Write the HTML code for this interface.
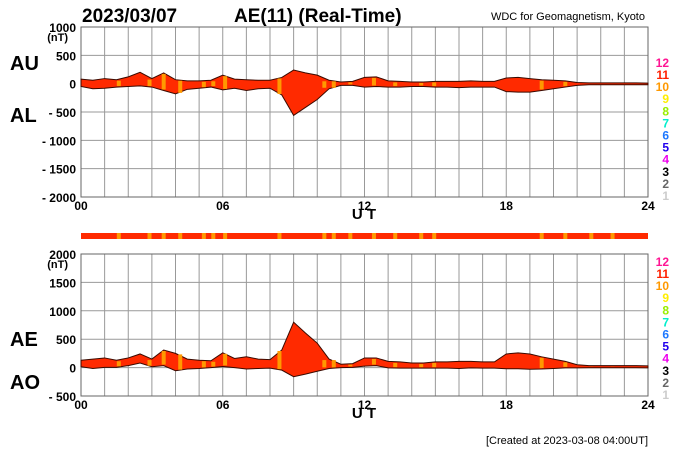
<!DOCTYPE html>
<html><head><meta charset="utf-8"><style>
body{margin:0;background:#fff;width:700px;height:450px;overflow:hidden}
svg{display:block;font-family:"Liberation Sans",sans-serif}
</style></head><body>
<svg id="c" width="700" height="450" viewBox="0 0 700 450">
<text x="82" y="22" font-size="19" font-weight="bold">2023/03/07</text>
<text x="234" y="22" font-size="19" font-weight="bold">AE(11) (Real-Time)</text>
<text x="645" y="20" font-size="11" text-anchor="end">WDC for Geomagnetism, Kyoto</text>
<text x="10" y="70" font-size="20" font-weight="bold">AU</text>
<text x="10" y="122" font-size="20" font-weight="bold">AL</text>
<text x="10" y="346" font-size="20" font-weight="bold">AE</text>
<text x="10" y="389" font-size="20" font-weight="bold">AO</text>
<text x="648" y="444" font-size="11" text-anchor="end">[Created at 2023-03-08 04:00UT]</text>
<g id="g"></g>
</svg>
<script>
const hours=[0,0.5,1,1.5,2,2.5,3,3.5,4,4.5,5,5.5,6,6.5,7,7.5,8,8.5,9,9.5,10,10.5,11,11.5,12,12.5,13,13.5,14,14.5,15,15.5,16,16.5,17,17.5,18,18.5,19,19.5,20,20.5,21,21.5,22,22.5,23,23.5,24];
const auValues=[80,60,90,70,120,200,90,190,70,50,50,60,150,80,70,60,60,110,240,190,150,60,30,40,110,120,50,40,30,30,40,40,40,50,40,40,100,110,90,70,60,50,20,15,15,15,15,15,10];
const alValues=[-50,-90,-80,-60,-50,-40,-60,-120,-180,-100,-80,-60,-110,-80,-120,-90,-80,-200,-560,-420,-280,-90,-30,-30,-60,-50,-60,-60,-50,-50,-60,-60,-70,-60,-60,-60,-140,-150,-150,-120,-90,-60,-30,-20,-20,-20,-20,-20,-20];
const orangeHours=[1.6,2.9,3.5,4.2,5.2,5.6,6.1,8.4,10.3,10.7,11.4,12.4,13.3,14.4,14.95,19.5,20.5,21.6,22.5];
const xTicks=["00","06","12","18","24"];
const y1Ticks=[1000,500,0,-500,-1000,-1500,-2000];
const y2Ticks=[2000,1500,1000,500,0,-500];
const legendNums=["12","11","10","9","8","7","6","5","4","3","2","1"];
const legendColors=["#ff1493","#ff2000","#ff9900","#ffee00","#99ee00","#00eecc","#1e78ff","#2200ee","#ee00ee","#000","#666","#ccc"];

const NS="http://www.w3.org/2000/svg",g=document.getElementById('g');
function mk(t,a,p){const e=document.createElementNS(NS,t);for(const k in a)e.setAttribute(k,a[k]);(p||g).appendChild(e);return e;}
const X0=81,X1=648;
const xs=h=>X0+(X1-X0)*h/24;
const y1=v=>27+(1000-v)*170/3000;
const y2=v=>254+(2000-v)*142/2500;
function grid(ys,yf,yt,yb,name){
  for(let h=0;h<=24;h++){const l=mk('line',{x1:xs(h),x2:xs(h),y1:yt,y2:yb,stroke:'#999','stroke-width':1});
    }
  ys.forEach(v=>{const l=mk('line',{x1:X0,x2:X1,y1:yf(v),y2:yf(v),stroke:'#999','stroke-width':1});
    
    const t=mk('text',{x:76,y:yf(v)+5,'font-size':12,'font-weight':'bold','text-anchor':'end'});
    t.textContent=v<0?'- '+(-v):String(v);
    });
  const r=mk('rect',{x:X0,y:yt,width:X1-X0,height:yb-yt,fill:'none',stroke:'#666'});
  
  xTicks.forEach((s,i)=>{const t=mk('text',{x:xs(i*6),y:yb+13,'font-size':12,'font-weight':'bold','text-anchor':'middle'});
    t.textContent=s;});
  const u=mk('text',{x:364,y:yb+22,'font-size':15,'font-weight':'bold','text-anchor':'middle'});u.textContent='U T';
  
  const n=mk('text',{x:68,y:yt+14,'font-size':11,'font-weight':'bold','text-anchor':'end'});n.textContent='(nT)';
  
  legendNums.forEach((s,i)=>{const t=mk('text',{x:669,y:yb+3-(11-i)*12.1,'font-size':12,'font-weight':'bold','text-anchor':'end',fill:legendColors[i]});
    t.textContent=s;});
}
function band(topArr,botArr,yf,name){
  let d='M'+hours.map((h,i)=>xs(h)+','+yf(topArr[i])).join('L');
  for(let i=hours.length-1;i>=0;i--)d+='L'+xs(hours[i])+','+yf(botArr[i]);
  const p=mk('path',{d:d+'Z',fill:'#ff2a00',stroke:'#3a0a00','stroke-width':1});
  
  orangeHours.forEach(h=>{const i=Math.round(h*2),a=Math.max(topArr[i],botArr[i]),b=Math.min(topArr[i],botArr[i]);
    const r=mk('rect',{x:xs(h)-2,y:yf(a)+1,width:4,height:Math.max(0,yf(b)-yf(a)-2),fill:'#ff9900'});
    });
}
grid(y1Ticks,y1,27,197,'au-al');
band(auValues,alValues,y1,'au-al');
const ae=auValues.map((u,i)=>u-alValues[i]),ao=auValues.map((u,i)=>(u+alValues[i])/2);
grid(y2Ticks,y2,254,396,'ae-ao');
band(ae,ao,y2,'ae-ao');
const s=mk('rect',{x:X0,y:233,width:X1-X0,height:6,fill:'#ff2a00'});

orangeHours.forEach(h=>{const r=mk('rect',{x:xs(h)-2,y:233,width:4,height:6,fill:'#ff9900'});
  });
</script>
</body></html>
